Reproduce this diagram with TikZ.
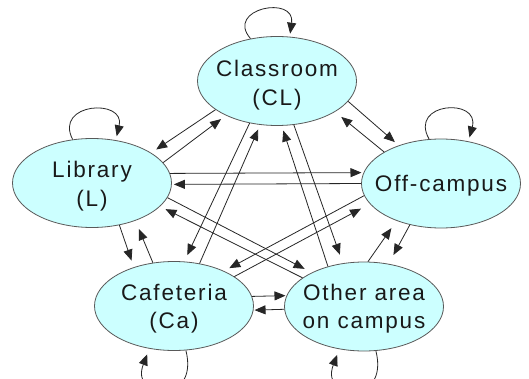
\documentclass[tikz,border=0pt]{standalone}
\usepackage{fontspec}
\setmainfont{Liberation Sans}[LetterSpace=8]
\usetikzlibrary{shapes.geometric,arrows.meta}
\definecolor{cyanfill}{HTML}{CCFFFF}
\begin{document}
\begin{tikzpicture}[x=1pt,y=-1pt,
  place/.style={ellipse, draw=black!65, line width=0.8pt, fill=cyanfill,
    minimum width=159pt, minimum height=89pt, inner sep=0pt},
  lbl/.style={align=center, font=\fontsize{22.5}{28.5}\selectfont, inner sep=0pt, text=black!90},
  arr/.style={-{Triangle[length=11pt,width=9pt]}, draw=black!85, line width=0.8pt, shorten >=6pt},
  gap/.style={shorten >=#1}]
\useasboundingbox (0,0) rectangle (529,379);
\clip (0,0) rectangle (529,379);
\fill[white] (0,0) rectangle (529,379);

% places
\node[place] (CL)  at (277,81)    {};
\node[place] (L)   at (92,183)    {};
\node[place] (Off) at (441,183.5) {};
\node[place] (Ca)  at (174,306)   {};
\node[place] (Oth) at (364,306.5) {};

\node[lbl] (CLt)  at (277,85)  {Classroom\\(CL)};
\node[lbl] (Lt)   at (92,186)  {Library\\(L)};
\node[lbl] (Offt) at (441,186) {Off-campus};
\node[lbl] (Cat)  at (174,308.5) {Cafeteria\\(Ca)};
\node[lbl] (Otht) at (364,308.5) {Other area\\on campus};

% self loops
\draw[arr,gap=3pt] (CL.122) .. controls +(-26,-30) and +(6,-42) .. (CL.74);
\draw[arr,gap=4pt] (L.114.4) .. controls +(-19,-37) and +(10,-42) .. (L.61.9);
\draw[arr,gap=4pt] (Off.105.5) .. controls +(-21,-37) and +(12,-44) .. (Off.57.7);
\draw[arr] (Ca.285.3) .. controls +(14,55) and +(-20,52) .. (Ca.240.3);
\draw[arr] (Oth.285.3) .. controls +(14,55) and +(-20,52) .. (Oth.240.3);

% CL - L
\draw[arr] (L.16.5) -- (CL.214.6);
\draw[arr] (CL.205) -- (L.27.6);
% CL - Ca
\draw[arr,gap=7pt] (CL.237.9) -- (Ca.77.8);
\draw[arr,gap=5pt] (Ca.59.7) -- (CL.249.4);
% CL - Oth
\draw[arr,gap=5pt] (Oth.132) -- (CL.276);
\draw[arr,gap=9pt] (CL.291.8) -- (Oth.116);
% CL - Off
\draw[arr,gap=5pt] (CL.344.7) -- (Off.138.3);
\draw[arr,gap=8pt] (Off.151.5) -- (CL.332.4);
% L - Off
\draw[arr,gap=2pt] (L.7.1) -- (Off.172);
\draw[arr,gap=2pt] (Off.180) -- (L.359.3);
% L - Ca
\draw[arr,gap=7pt] (L.303.7) -- (Ca.136.9);
\draw[arr,gap=9pt] (Ca.116.6) -- (L.319.9);
% L - Oth
\draw[arr,gap=8pt] (L.349.4) -- (Oth.147.2);
\draw[arr,gap=6pt] (Oth.155.8) -- (L.341.1);
% Off - Ca
\draw[arr,gap=6pt] (Off.189.5) -- (Ca.35.1);
\draw[arr,gap=10pt] (Ca.26.6) -- (Off.196.9);
% Off - Oth
\draw[arr,gap=9pt] (Oth.85) -- (Off.220.1);
\draw[arr,gap=10pt] (Off.233.1) -- (Oth.60.4);
% Ca - Oth
\draw[arr,gap=1pt] (Ca.7.2) -- (Oth.172.9);
\draw[arr,gap=1pt] (Oth.182.9) -- (Ca.357);
\end{tikzpicture}
\end{document}
